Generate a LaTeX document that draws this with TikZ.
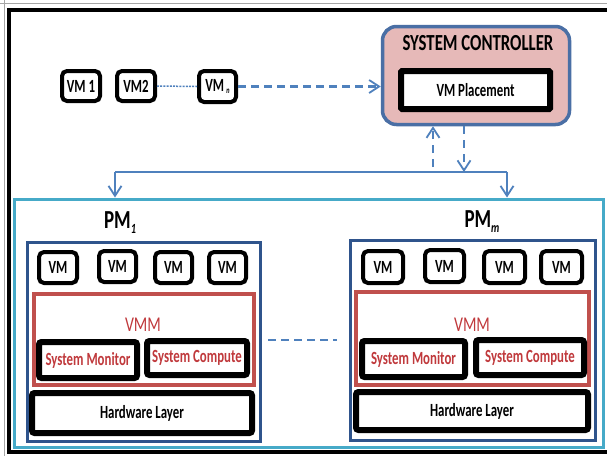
\documentclass[tikz,border=0pt]{standalone}
\usepackage{fontspec}
\setmainfont{Carlito}
\usetikzlibrary{arrows.meta}
\definecolor{scfill}{RGB}{230,185,184}
\definecolor{scedge}{RGB}{74,111,165}
\definecolor{arrowblue}{RGB}{79,129,189}
\definecolor{frameblue}{RGB}{70,170,200}
\definecolor{pmblue}{RGB}{47,84,140}
\definecolor{vmmred}{RGB}{192,80,77}
\definecolor{txtred}{RGB}{192,57,60}
\newcommand\cz[2][0.69]{\scalebox{#1}[1]{#2}}
\begin{document}
\begin{tikzpicture}[x=1pt,y=-1pt,
  vmbox/.style={draw=black, line width=4pt, rounded corners=5pt, fill=white, inner sep=0pt,
    font=\bfseries\fontsize{18.6}{20}\selectfont},
  blackbox/.style={draw=black, line width=6pt, rounded corners=2.5pt, fill=white, inner sep=0pt,
    font=\bfseries\fontsize{18.6}{20}\selectfont},
  redtext/.style={text=txtred},
  pmbox/.style={draw=pmblue, line width=3pt, inner sep=0pt},
  vmmbox/.style={draw=vmmred, line width=3.5pt, fill=white, inner sep=0pt},
  lbl/.style={inner sep=0pt},
  bluearrow/.style={draw=arrowblue, line width=2.2pt, -{Straight Barb[length=10pt,width=13pt,line width=1.8pt]}},
  dashline/.style={dash pattern=on 8pt off 5pt},
]
\useasboundingbox (0,0) rectangle (607,456);
\fill[white] (0,0) rectangle (607,456);
% outer frame
\draw[gray!70, line width=0.8pt] (4.5,0) -- (4.5,456);
\draw[gray!70, line width=0.8pt] (0,3.5) -- (607,3.5);
\draw[black, line width=4pt] (615,10) -- (9,10) -- (9,452) -- (615,452);

% top row VMs
\node[vmbox, minimum width=38pt, minimum height=30pt] (vm1) at (81,86) {\cz{VM 1}};
\node[vmbox, minimum width=38pt, minimum height=30pt] (vm2) at (136,86) {\cz{VM2}};
\node[vmbox, minimum width=37pt, minimum height=31pt] (vmn) at (217.5,86.5)
  {\cz{VM\,\raisebox{-2pt}{\fontsize{9}{9}\selectfont\itshape n}}};

% system controller
\node[draw=scedge, fill=scfill, line width=3.5pt, rounded corners=14pt, inner sep=0pt,
  minimum width=187pt, minimum height=98pt] (sc) at (476,75.5) {};
\node[lbl, font=\bfseries\fontsize{23}{25}\selectfont] (sctitle) at (478,43) {\cz[0.73]{SYSTEM CONTROLLER}};
\node[blackbox, rounded corners=1pt, minimum width=149pt, minimum height=38pt] (vmp) at (475.5,90) {\cz{VM Placement}};

% frame of PMs
\node[draw=frameblue, line width=3pt, inner sep=0pt, minimum width=589pt, minimum height=248pt] (frame) at (308.5,323) {};

% PM1
\node[pmbox, minimum width=233pt, minimum height=199pt] (pm1) at (143.5,341.5) {};
\node[lbl, font=\bfseries\fontsize{26}{28}\selectfont] (pm1l) at (120,223)
  {\cz[0.73]{PM\raisebox{-5pt}{\fontsize{14}{14}\selectfont\itshape 1}}};
\node[vmbox, minimum width=38pt, minimum height=31pt] (a1) at (58,267.5) {\cz{VM}};
\node[vmbox, minimum width=37pt, minimum height=31pt] (a2) at (117.5,266.5) {\cz{VM}};
\node[vmbox, minimum width=37pt, minimum height=31pt] (a3) at (173.5,267.5) {\cz{VM}};
\node[vmbox, minimum width=37pt, minimum height=31pt] (a4) at (227.5,267.5) {\cz{VM}};
\node[vmmbox, minimum width=220pt, minimum height=91pt] (vmm1) at (144,339.5) {};
\node[lbl, text=txtred, font=\fontsize{21}{22}\selectfont] (vmm1l) at (143,325) {\cz[0.75]{VMM}};
\node[blackbox, redtext, minimum width=98pt, minimum height=36pt] (sm1) at (88,360) {\cz{System Monitor}};
\node[blackbox, redtext, minimum width=100pt, minimum height=34pt] (scp1) at (197,358) {\cz{System Compute}};
\node[blackbox, minimum width=220pt, minimum height=40pt] (hw1) at (142,413) {\cz{Hardware Layer}};

% PMm
\node[pmbox, minimum width=245pt, minimum height=200pt] (pmm) at (472.5,340) {};
\node[lbl, font=\bfseries\fontsize{26}{28}\selectfont] (pmml) at (482,222)
  {\cz[0.73]{PM\raisebox{-5pt}{\fontsize{14}{14}\selectfont\itshape m}}};
\node[vmbox, minimum width=40pt, minimum height=32pt] (b1) at (383,267) {\cz{VM}};
\node[vmbox, minimum width=39pt, minimum height=32pt] (b2) at (444.5,266) {\cz{VM}};
\node[vmbox, minimum width=41pt, minimum height=32pt] (b3) at (504.5,267) {\cz{VM}};
\node[vmbox, minimum width=41pt, minimum height=32pt] (b4) at (561.5,267) {\cz{VM}};
\node[vmmbox, minimum width=233pt, minimum height=93pt] (vmmm) at (472.5,338.5) {};
\node[lbl, text=txtred, font=\fontsize{21}{22}\selectfont] (vmmml) at (472,325) {\cz[0.75]{VMM}};
\node[blackbox, redtext, minimum width=103pt, minimum height=36pt] (smm) at (413.5,359) {\cz{System Monitor}};
\node[blackbox, redtext, minimum width=108pt, minimum height=35pt] (scpm) at (530,357.5) {\cz{System Compute}};
\node[blackbox, minimum width=232pt, minimum height=38pt] (hwm) at (472,411) {\cz{Hardware Layer}};

% connectors
\draw[arrowblue, line width=1.5pt, dash pattern=on 2pt off 1.2pt] (vm2.east) -- (vmn.west);
\draw[bluearrow, dashline] (vmn.east) -- (sc.west |- vmn.east);

\coordinate (busL) at (115,172);
\coordinate (busR) at (507,172);
\coordinate (upstart) at (433,167);
\draw[bluearrow, dash pattern=on 8pt off 6pt] (upstart) -- (upstart |- sc.south);
\draw[bluearrow, dash pattern=on 8pt off 6pt] (464,126) coordinate (downstart) -- (464,172);
\draw[arrowblue, line width=2.2pt] (busL) -- (busR);
\draw[bluearrow] (busL) -- (busL |- frame.north);
\draw[bluearrow] (busR) -- (busR |- frame.north);

\coordinate (midL) at (268,340);
\coordinate (midR) at (337,340);
\draw[arrowblue, line width=2.2pt, dashline] (midL) -- (midR);
\end{tikzpicture}
\end{document}
